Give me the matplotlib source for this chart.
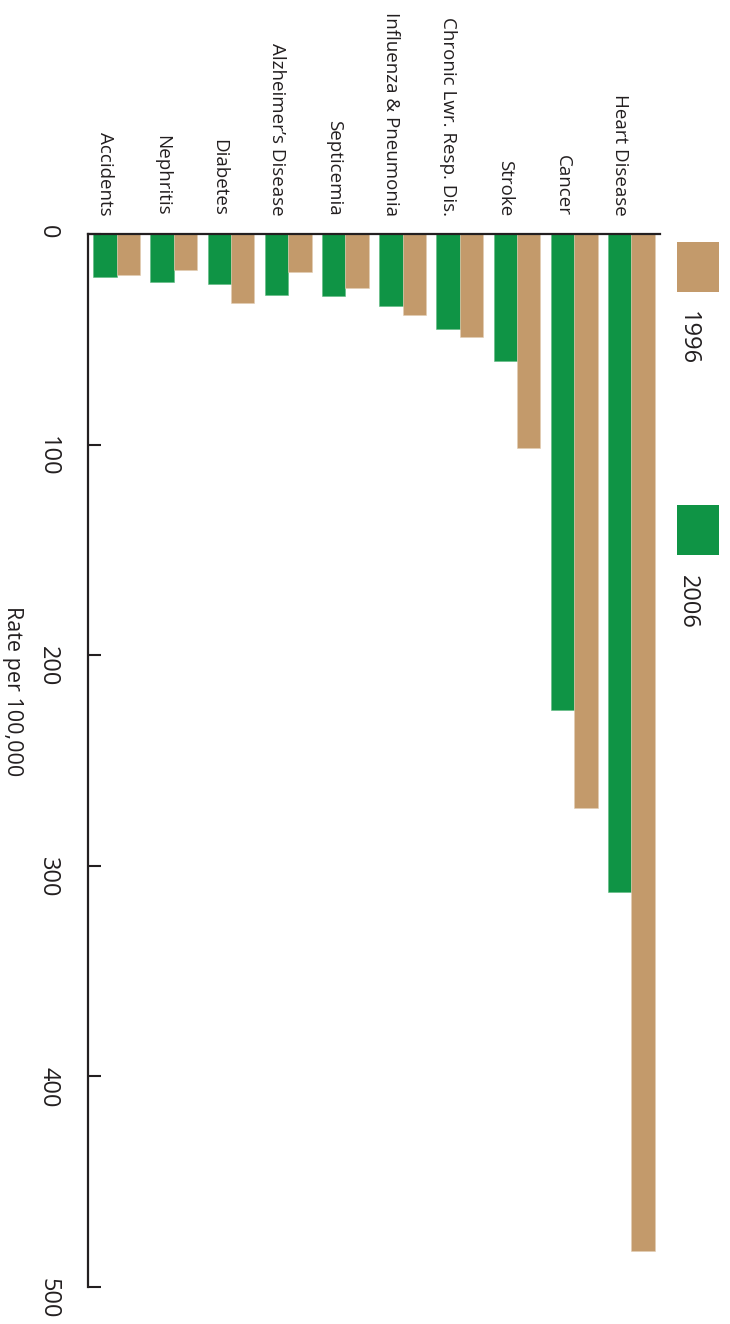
import matplotlib
matplotlib.use("Agg")
import matplotlib.pyplot as plt
import numpy as np
from matplotlib.patches import Rectangle

categories = ["Accidents", "Nephritis", "Diabetes", "Alzheimer\u2019s Disease",
              "Septicemia", "Influenza & Pneumonia", "Chronic Lwr. Resp. Dis.",
              "Stroke", "Cancer", "Heart Disease"]
rate_2006 = [20.3, 22.8, 23.6, 29.0, 29.3, 34.2, 45.1, 60.3, 226.0, 312.4]
rate_1996 = [19.3, 17.1, 32.6, 18.0, 25.8, 38.5, 48.9, 101.6, 272.6, 482.8]
yticks = [0, 100, 200, 300, 400, 500]
series_labels = ["1996", "2006"]

GREEN = "#0f9445"
TAN = "#c39a6b"
DARK = "#231f20"

plt.rcParams['font.family'] = ['Open Sans', 'DejaVu Sans']

W, H = 730, 1324
fig = plt.figure(figsize=(W / 100, H / 100), dpi=100)
left, right, top, bottom = 88, 660, 234, 1287
ax = fig.add_axes([left / W, 1 - bottom / H, (right - left) / W, (bottom - top) / H])

x = np.arange(len(categories))
bw = 0.408
ax.bar(x - bw / 2, rate_2006, width=bw, color=GREEN, edgecolor="#5fb981", linewidth=0.4)
ax.bar(x + bw / 2, rate_1996, width=bw, color=TAN, edgecolor="#e3cdb3", linewidth=0.4)

ax.set_xlim(-0.5, 9.5)
ax.set_ylim(500, 0)

for s in ["right", "bottom"]:
    ax.spines[s].set_visible(False)
for s in ["top", "left"]:
    ax.spines[s].set_color(DARK)
    ax.spines[s].set_linewidth(1.6)

ax.set_yticks(yticks)
ax.set_yticklabels([str(v) for v in yticks])
ax.tick_params(axis="y", direction="in", length=9.5, width=1.5, color=DARK,
               labelrotation=-90, labelsize=17, pad=20, labelcolor=DARK)

ax.xaxis.tick_top()
ax.set_xticks(x - bw / 2)
ax.set_xticklabels(categories)
ax.tick_params(axis="x", length=0, pad=13, labelrotation=-90, labelsize=13.5,
               labelcolor=DARK)

fig.text(12 / W, 1 - 691 / H, "Rate per 100,000", rotation=-90, ha="center",
         va="center", fontsize=15.5, color=DARK)

# legend
for (y0, y1), col, lab, ty in [((242, 292), TAN, series_labels[0], 311),
                                ((505, 555), GREEN, series_labels[1], 575)]:
    fig.patches.append(Rectangle((677 / W, 1 - y1 / H), 42 / W, (y1 - y0) / H,
                                 transform=fig.transFigure, facecolor=col,
                                 edgecolor="none"))
    fig.text(688 / W, 1 - ty / H, lab, rotation=-90, ha="center", va="top",
             fontsize=17, color=DARK)

fig.savefig("out.png", dpi=100)
